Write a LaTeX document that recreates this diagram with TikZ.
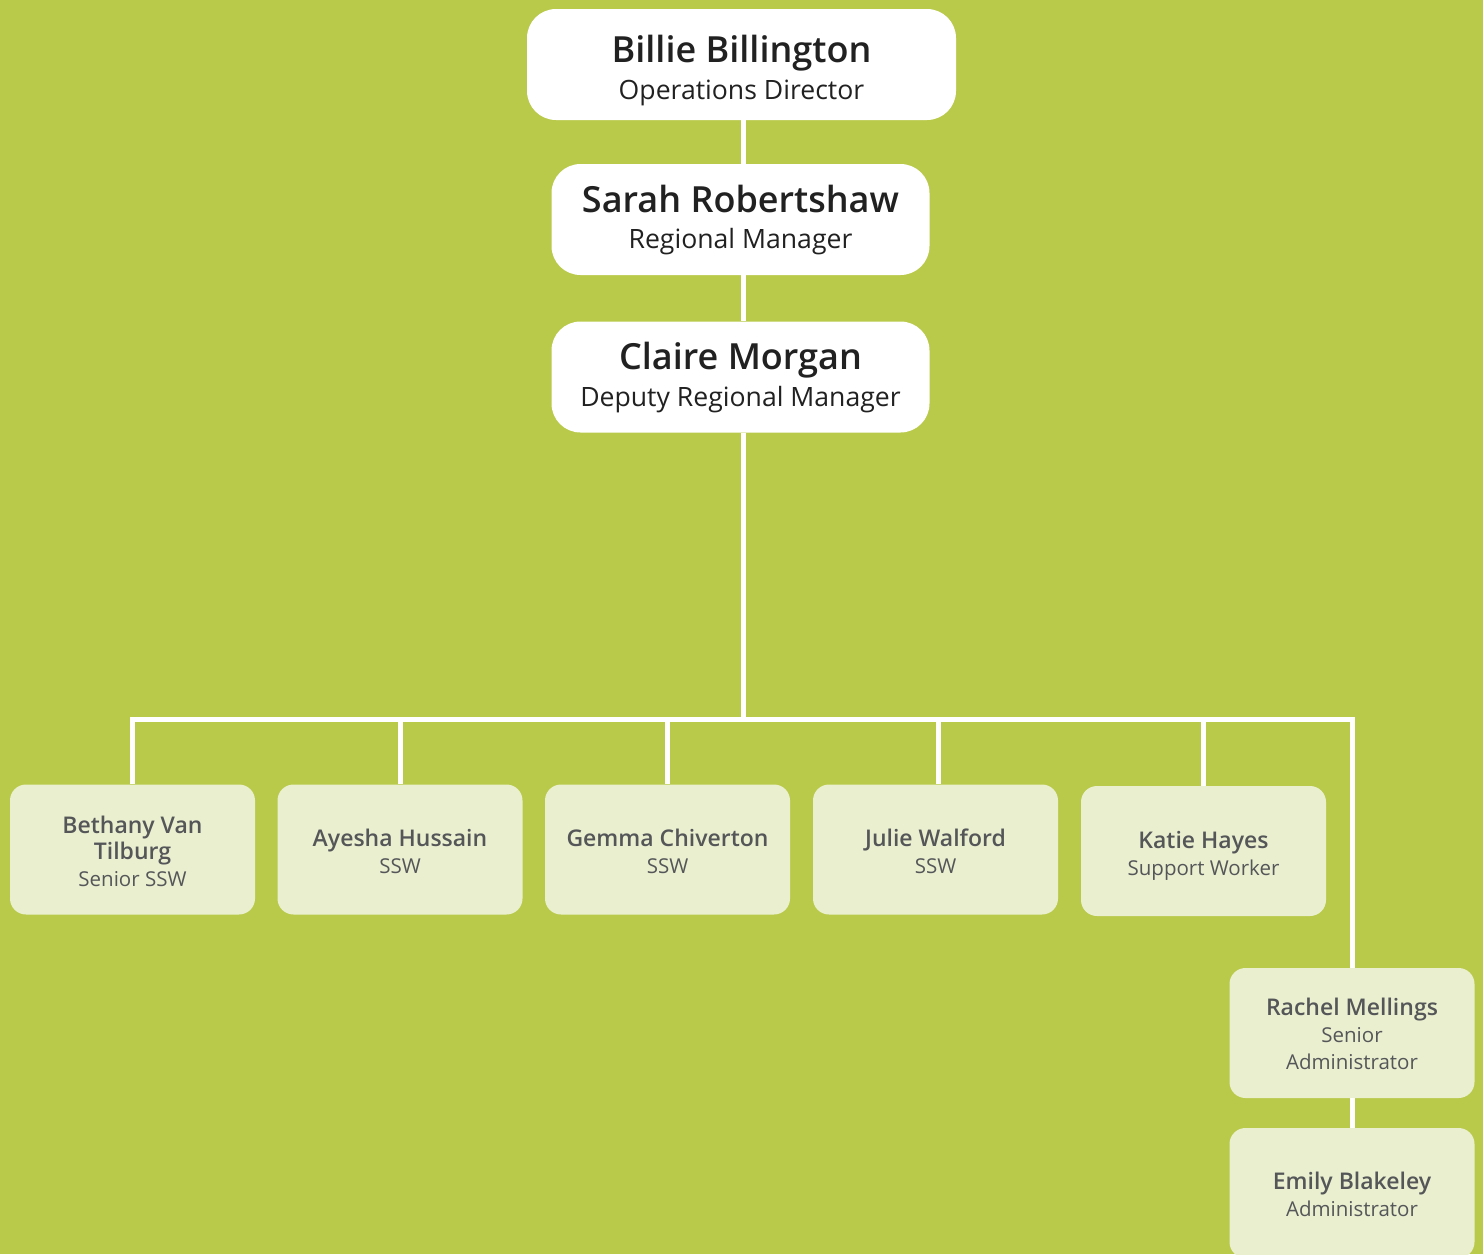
\documentclass[tikz,border=0pt]{standalone}
\usepackage{fontspec}
\setmainfont{Open Sans}
\IfFontExistsTF{Open Sans Semibold}{\newfontfamily\semibf{Open Sans Semibold}}{%
  \IfFontExistsTF{Open Sans SemiBold}{\newfontfamily\semibf{Open Sans SemiBold}}{\newcommand\semibf{\bfseries}}}
\usetikzlibrary{calc}
\definecolor{bg}{RGB}{185,202,74}
\definecolor{pale}{RGB}{234,239,208}
\definecolor{dark}{RGB}{33,33,33}
\definecolor{grey}{RGB}{84,86,88}
\begin{document}
\begin{tikzpicture}[x=1pt,y=-1pt,
  topbox/.style={fill=white, rounded corners=29pt, minimum width=378pt, minimum height=111pt, inner sep=0pt, draw=none},
  lowbox/.style={fill=pale, rounded corners=16pt, minimum width=245pt, minimum height=130pt, inner sep=0pt, draw=none},
  topname/.style={anchor=base, inner sep=0pt, text=dark, font=\fontsize{36}{40}\selectfont\semibf},
  toprole/.style={anchor=base, inner sep=0pt, text=dark, font=\fontsize{26.6}{30}\selectfont},
  lowname/.style={anchor=base, inner sep=0pt, text=grey, font=\fontsize{23}{26}\selectfont\semibf},
  lowrole/.style={anchor=base, inner sep=0pt, text=grey, font=\fontsize{20.5}{26}\selectfont},
  link/.style={draw=white, line width=5pt}]
\fill[bg] (0,0) rectangle (1483,1254);
\useasboundingbox (0,0) rectangle (1483,1254);

% top boxes
\node[topbox, minimum width=429pt] (billie) at (741.5,64.5) {};
\node[topbox] (sarah) at (740.5,219.5) {};
\node[topbox] (claire) at (740.5,377) {};

% lower boxes
\node[lowbox] (bethany) at (132.5,849.5) {};
\node[lowbox] (ayesha) at (400,849.5) {};
\node[lowbox] (gemma) at (667.5,849.5) {};
\node[lowbox] (julie) at (935.5,849.5) {};
\node[lowbox] (katie) at (1203.5,851) {};
\node[lowbox] (rachel) at (1352,1033) {};
\node[lowbox] (emily) at (1352,1193) {};

% connectors
\coordinate (bus) at (743,719);
\coordinate (jdrop) at ($(julie.north)+(2.5,0)$);
\draw[link] (billie.south -| bus) -- (sarah.north -| bus);
\draw[link] (sarah.south -| bus) -- (claire.north -| bus);
\draw[link] (claire.south -| bus) -- (bus);
\draw[link] (bethany.north) -- (bethany.north |- bus) -- (bus -| rachel.north) -- (rachel.north);
\draw[link] (ayesha.north) -- (ayesha.north |- bus);
\draw[link] (gemma.north) -- (gemma.north |- bus);
\draw[link] (jdrop) -- (jdrop |- bus);
\draw[link] (katie.north) -- (katie.north |- bus);
\draw[link] (rachel.south) -- (emily.north);

% texts
\node[topname] (billie-n) at (741.5,62) {Billie Billington};
\node[toprole] (billie-r) at (741.5,99) {Operations Director};
\node[topname] (sarah-n) at (740.5,212.5) {Sarah Robertshaw};
\node[toprole] (sarah-r) at (740.5,248.5) {Regional Manager};
\node[topname] (claire-n) at (740.5,369) {Claire Morgan};
\node[toprole] (claire-r) at (740.5,406.5) {Deputy Regional Manager};

\node[lowname] (bethany-n1) at (132.5,833) {Bethany Van};
\node[lowname] (bethany-n2) at (132.5,859.5) {Tilburg};
\node[lowrole] (bethany-r) at (132.5,886.5) {Senior SSW};
\node[lowname] (ayesha-n) at (400,846) {Ayesha Hussain};
\node[lowrole] (ayesha-r) at (400,873) {SSW};
\node[lowname] (gemma-n) at (667.5,846) {Gemma Chiverton};
\node[lowrole] (gemma-r) at (667.5,873) {SSW};
\node[lowname] (julie-n) at (935.5,846) {Julie Walford};
\node[lowrole] (julie-r) at (935.5,873) {SSW};
\node[lowname] (katie-n) at (1203.5,848) {Katie Hayes};
\node[lowrole] (katie-r) at (1203.5,875) {Support Worker};
\node[lowname] (rachel-n) at (1352,1015) {Rachel Mellings};
\node[lowrole] (rachel-r1) at (1352,1042.5) {Senior};
\node[lowrole] (rachel-r2) at (1352,1069) {Administrator};
\node[lowname] (emily-n) at (1352,1189) {Emily Blakeley};
\node[lowrole] (emily-r) at (1352,1216) {Administrator};
\end{tikzpicture}
\end{document}
